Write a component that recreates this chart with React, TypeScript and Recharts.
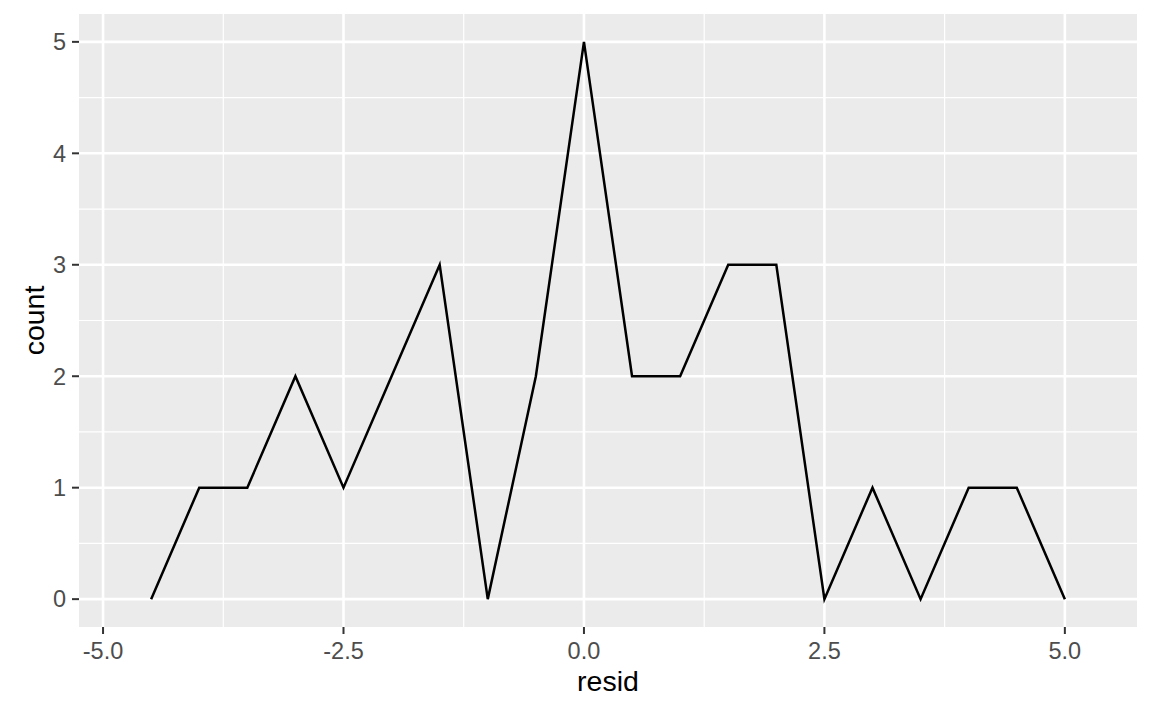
import { CartesianGrid, Label, Line, LineChart, XAxis, YAxis } from "recharts";

const residBins = [-4.5, -4, -3.5, -3, -2.5, -2, -1.5, -1, -0.5, 0, 0.5, 1, 1.5, 2, 2.5, 3, 3.5, 4, 4.5, 5];
const counts = [0, 1, 1, 2, 1, 2, 3, 0, 2, 5, 2, 2, 3, 3, 0, 1, 0, 1, 1, 0];

const xTicks = [-5, -2.5, 0, 2.5, 5];
const xMinor = [-3.75, -1.25, 1.25, 3.75];
const yTicks = [0, 1, 2, 3, 4, 5];
const yMinor = [0.5, 1.5, 2.5, 3.5, 4.5];

const data = residBins.map((x, i) => ({ x, count: counts[i] }));

const FONT = '"Liberation Sans", Arial, Helvetica, sans-serif';
const tickStyle = { fill: "#4D4D4D", fontSize: 23.5, fontFamily: FONT };

function YTitle(props: any) {
  const vb = props.viewBox || {};
  const cx = 34;
  const cy = vb.y + vb.height / 2;
  return (
    <text
      x={cx}
      y={cy}
      transform={`rotate(-90, ${cx}, ${cy})`}
      textAnchor="middle"
      dominantBaseline="central"
      fill="#000"
      fontSize={28.5}
      fontFamily={FONT}
    >
      count
    </text>
  );
}

export default function App() {
  return (
    <div style={{ position: "absolute", left: 0, top: 0, background: "#fff" }}>
      <LineChart
        width={1152}
        height={711}
        data={data}
        margin={{ top: 14, right: 15, bottom: 0, left: 0 }}
      >
        <CartesianGrid
          fill="#EBEBEB"
          stroke="#FFFFFF"
          strokeWidth={1.2}
          horizontalValues={yMinor}
          verticalValues={xMinor}
        />
        <CartesianGrid
          stroke="#FFFFFF"
          strokeWidth={2.6}
          horizontalValues={yTicks}
          verticalValues={xTicks}
        />
        <XAxis
          dataKey="x"
          type="number"
          domain={[-5.25, 5.75]}
          ticks={xTicks}
          allowDataOverflow
          tickFormatter={(v: number) => v.toFixed(1)}
          axisLine={false}
          tickLine={{ stroke: "#333333", strokeWidth: 2 }}
          tickSize={7}
          tickMargin={8}
          tick={tickStyle}
          height={84}
          interval={0}
        >
          <Label
            value="resid"
            position="insideBottom"
            offset={20}
            style={{ fill: "#000", fontSize: 28.5, fontFamily: FONT }}
          />
        </XAxis>
        <YAxis
          type="number"
          domain={[-0.25, 5.25]}
          ticks={yTicks}
          allowDataOverflow
          axisLine={false}
          tickLine={{ stroke: "#333333", strokeWidth: 2 }}
          tickSize={7}
          tickMargin={6}
          tick={tickStyle}
          width={79}
          interval={0}
        >
          <Label content={<YTitle />} />
        </YAxis>
        <Line
          type="linear"
          dataKey="count"
          stroke="#000000"
          strokeWidth={2.5}
          dot={false}
          activeDot={false}
          isAnimationActive={false}
        />
      </LineChart>
    </div>
  );
}
